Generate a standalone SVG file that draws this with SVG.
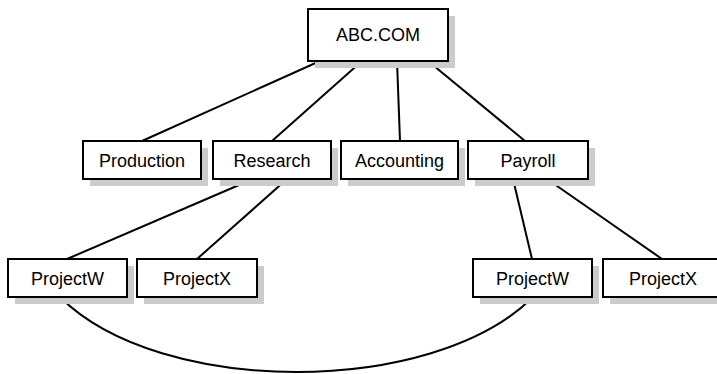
<svg xmlns="http://www.w3.org/2000/svg" width="717" height="374" viewBox="0 0 717 374">
<style>
.shadow{fill:#cccccc;stroke:none}
.box{fill:#ffffff;stroke:#000000;stroke-width:2}
.lbl{font-family:"Liberation Sans",Arial,sans-serif;font-size:18px;fill:#000000;text-anchor:middle}
.conn{stroke:#000000;stroke-width:2;fill:none}
</style>
<rect width="717" height="374" fill="#ffffff"/>
<g id="connectors">
<line class="conn" x1="320" y1="61" x2="142" y2="141"/>
<line class="conn" x1="362" y1="61" x2="272" y2="141"/>
<line class="conn" x1="397" y1="61" x2="400" y2="141"/>
<line class="conn" x1="428" y1="61" x2="525" y2="141"/>
<line class="conn" x1="253" y1="179" x2="67" y2="259"/>
<line class="conn" x1="287" y1="179" x2="197" y2="259"/>
<line class="conn" x1="513" y1="179" x2="532" y2="259"/>
<line class="conn" x1="547" y1="179" x2="662" y2="259"/>
<path class="conn" d="M60,297 C160,397 433,397 533,297"/>
</g>
<g id="abc">
<rect class="shadow" x="315" y="16" width="140" height="52"/>
<rect class="box" x="308" y="9" width="140" height="52"/>
<text class="lbl" x="378" y="41">ABC.COM</text>
</g>
<g id="production">
<rect class="shadow" x="90" y="148" width="118" height="38"/>
<rect class="box" x="83" y="141" width="118" height="38"/>
<text class="lbl" x="142" y="167">Production</text>
</g>
<g id="research">
<rect class="shadow" x="220" y="148" width="118" height="38"/>
<rect class="box" x="213" y="141" width="118" height="38"/>
<text class="lbl" x="272" y="167">Research</text>
</g>
<g id="accounting">
<rect class="shadow" x="348" y="148" width="117" height="38"/>
<rect class="box" x="341" y="141" width="117" height="38"/>
<text class="lbl" x="399.5" y="167">Accounting</text>
</g>
<g id="payroll">
<rect class="shadow" x="475" y="148" width="120" height="38"/>
<rect class="box" x="468" y="141" width="120" height="38"/>
<text class="lbl" x="528" y="167">Payroll</text>
</g>
<g id="projectw-left">
<rect class="shadow" x="15" y="266" width="119" height="38"/>
<rect class="box" x="8" y="259" width="119" height="38"/>
<text class="lbl" x="67.5" y="285">ProjectW</text>
</g>
<g id="projectx-left">
<rect class="shadow" x="144" y="266" width="120" height="38"/>
<rect class="box" x="137" y="259" width="120" height="38"/>
<text class="lbl" x="197" y="285">ProjectX</text>
</g>
<g id="projectw-right">
<rect class="shadow" x="480" y="266" width="119" height="38"/>
<rect class="box" x="473" y="259" width="119" height="38"/>
<text class="lbl" x="532.5" y="285">ProjectW</text>
</g>
<g id="projectx-right">
<rect class="shadow" x="610" y="266" width="120" height="38"/>
<rect class="box" x="603" y="259" width="120" height="38"/>
<text class="lbl" x="663" y="285">ProjectX</text>
</g>
</svg>
